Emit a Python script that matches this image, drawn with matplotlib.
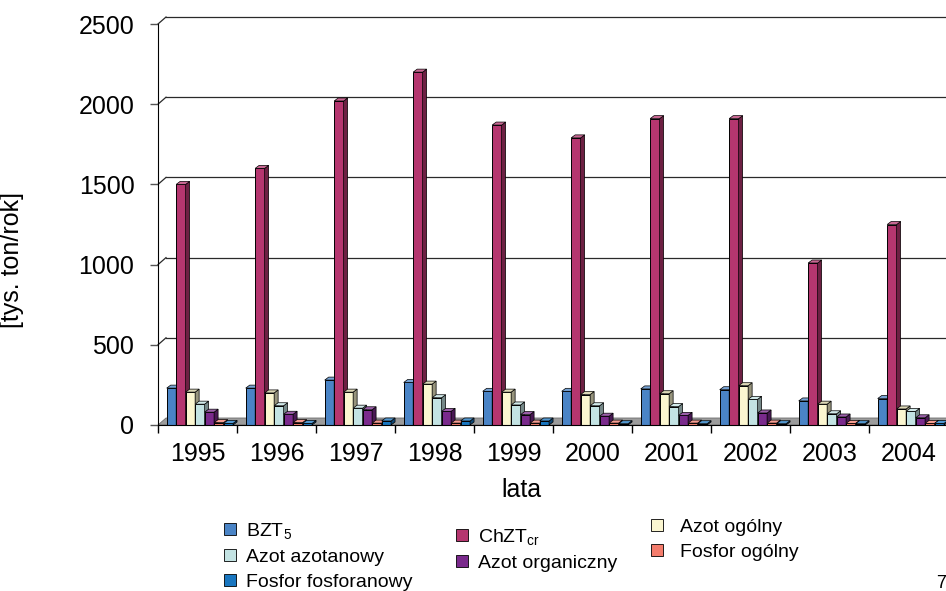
import numpy as np
import matplotlib
matplotlib.use("Agg")
import matplotlib.pyplot as plt
from matplotlib.patches import Polygon, Patch
from matplotlib.lines import Line2D
from matplotlib.transforms import IdentityTransform
import matplotlib.colors as mcolors

plt.rcParams['font.family'] = ['Liberation Sans', 'DejaVu Sans']
plt.rcParams['mathtext.fontset'] = 'custom'
plt.rcParams['mathtext.rm'] = 'Liberation Sans'
plt.rcParams['mathtext.default'] = 'regular'

# data [tys. ton/rok]
years = ['1995', '1996', '1997', '1998', '1999', '2000', '2001', '2002', '2003', '2004']
series_names = [r'BZT$_{5}$', r'ChZT$_{cr}$', 'Azot ogólny', 'Azot azotanowy',
                'Azot organiczny', 'Fosfor ogólny', 'Fosfor fosforanowy']
bzt5 = [230, 230, 280, 265, 210, 210, 225, 220, 150, 165]
chzt = [1500, 1600, 2020, 2200, 1870, 1790, 1910, 1910, 1010, 1250]
azot_ogolny = [205, 200, 205, 255, 205, 190, 195, 245, 130, 100]
azot_azotanowy = [130, 120, 105, 170, 125, 120, 115, 160, 70, 85]
azot_organiczny = [80, 67, 95, 85, 65, 55, 60, 75, 50, 45]
fosfor_ogolny = [15, 15, 12, 12, 12, 12, 12, 12, 10, 10]
fosfor_fosforanowy = [10, 10, 25, 25, 25, 8, 8, 8, 8, 10]
series = [bzt5, chzt, azot_ogolny, azot_azotanowy, azot_organiczny,
          fosfor_ogolny, fosfor_fosforanowy]
colors = ['#4a84c6', '#b5366f', '#fbf6d0', '#c3e3e3', '#7a2a8c', '#f47c6c', '#1976c0']

W, H = 946, 591
fig = plt.figure(figsize=(W / 100, H / 100), dpi=100)
ax = fig.add_axes([158 / W, (H - 425) / H, 790 / W, 401 / H])
ax.set_xlim(-0.5, len(years) - 0.5)
ax.set_ylim(0, 2500)
ax.patch.set_visible(False)
for s in ['top', 'right']:
    ax.spines[s].set_visible(False)
ax.spines['left'].set_color('black')
ax.spines['bottom'].set_color('black')

# depth offsets in pixels
wall_dx, wall_dy = 8, 7
bar_dx, bar_dy = 4, 3

def disp(x, y):
    return ax.transData.transform((x, y))

def shade(c, f):
    r, g, b = mcolors.to_rgb(c)
    return (r * f, g * f, b * f)

def lighten(c, f):
    r, g, b = mcolors.to_rgb(c)
    return (r + (1 - r) * f, g + (1 - g) * f, b + (1 - b) * f)

x0, x1 = ax.get_xlim()
yticks = [0, 500, 1000, 1500, 2000, 2500]

# floor
p_fl, p_fr = disp(x0, 0), disp(x1, 0)
floor = Polygon([p_fl, p_fr, p_fr + (wall_dx, wall_dy), p_fl + (wall_dx, wall_dy)],
                closed=True, facecolor='#9c9c9c', edgecolor='#6e6e6e', lw=0.6,
                transform=IdentityTransform(), zorder=0.3, clip_on=False)
ax.add_patch(floor)

# back wall gridlines + side-wall diagonals
for v in yticks[1:]:
    a, b = disp(x0, v), disp(x1, v)
    ax.add_line(Line2D([a[0] + wall_dx, b[0] + wall_dx], [a[1] + wall_dy, b[1] + wall_dy],
                       color='#2a2a2a', lw=0.9, transform=IdentityTransform(),
                       zorder=0.4, clip_on=False))
    ax.add_line(Line2D([a[0], a[0] + wall_dx], [a[1], a[1] + wall_dy],
                       color='#2a2a2a', lw=0.9, transform=IdentityTransform(),
                       zorder=0.4, clip_on=False))

# 3D-looking bars
width = 0.12
n = len(series)
xs = np.arange(len(years))
for i, (vals, col) in enumerate(zip(series, colors)):
    pos = xs + 0.03 + (i - (n - 1) / 2) * width
    bars = ax.bar(pos, vals, width=width, color=col, edgecolor='black', lw=0.7,
                  zorder=1 + i * 0.01, label=series_names[i])
    for r in bars:
        bx0, bx1 = r.get_x(), r.get_x() + r.get_width()
        h = r.get_height()
        l0, r0, lt, rt = disp(bx0, 0), disp(bx1, 0), disp(bx0, h), disp(bx1, h)
        side = Polygon([r0, rt, rt + (bar_dx, bar_dy), r0 + (bar_dx, bar_dy)],
                       facecolor=shade(col, 0.6), edgecolor='black', lw=0.5,
                       transform=IdentityTransform(), zorder=1 + i * 0.01, clip_on=False)
        top = Polygon([lt, rt, rt + (bar_dx, bar_dy), lt + (bar_dx, bar_dy)],
                      facecolor=lighten(col, 0.25) if i != 2 else shade(col, 0.88),
                      edgecolor='black', lw=0.5,
                      transform=IdentityTransform(), zorder=1 + i * 0.01, clip_on=False)
        ax.add_patch(side)
        ax.add_patch(top)

# axes, ticks, labels
ax.set_yticks(yticks)
ax.tick_params(axis='y', length=6, width=1, color='#555555', pad=11, labelsize=18)
ax.set_xticks(xs)
ax.set_xticklabels(years)
ax.set_xticks(np.arange(-0.5, len(years), 1), minor=True)
ax.tick_params(axis='x', which='major', length=0, pad=12, labelsize=18)
ax.tick_params(axis='x', which='minor', length=6, width=1, color='black')
ax.set_ylabel('[tys. ton/rok]', fontsize=18)
ax.yaxis.set_label_coords((24 - 158) / 790, (425 - 260) / 401)
ax.set_xlabel('lata', fontsize=18)
ax.xaxis.set_label_coords((521 - 158) / 790, (425 - 478) / 401)

# legend in three staggered columns
handles = [Patch(facecolor=c, edgecolor='black', lw=0.6) for c in colors]
cols = [([0, 3, 6], 224, 521, 0.55), ([1, 4], 456, 527, 0.55), ([2, 5], 651, 519, 0.9)]
for idx, lx, ly, tp in cols:
    fig.legend([handles[k] for k in idx], [series_names[k] for k in idx],
               loc='upper left', bbox_to_anchor=(lx / W, 1 - ly / H),
               frameon=False, fontsize=14, handlelength=0.6, handleheight=0.6,
               handletextpad=tp, labelspacing=0.4, borderaxespad=0, borderpad=0)

fig.text(936 / W, 1 - 583 / H, '7', fontsize=13, va='center', ha='left')

fig.savefig('out.png', dpi=100)
